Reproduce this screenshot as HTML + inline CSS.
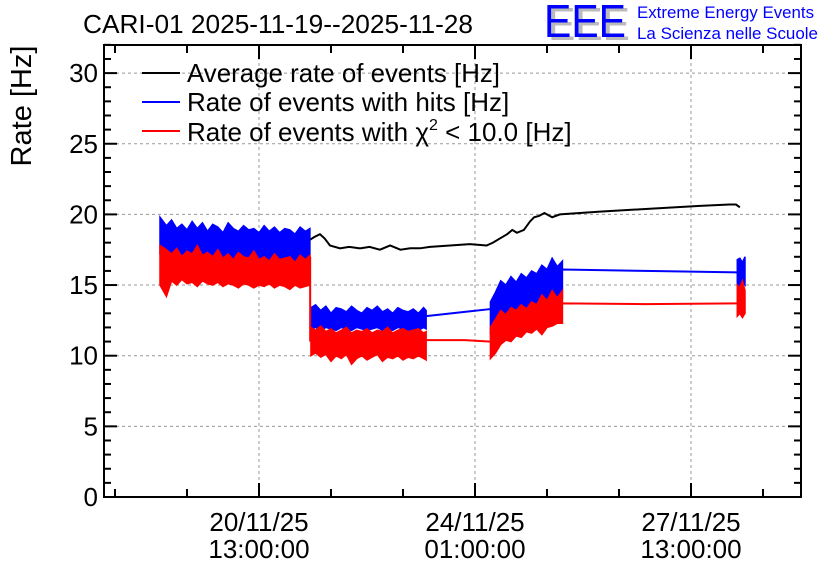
<!DOCTYPE html>
<html><head><meta charset="utf-8"><style>
body{margin:0;background:#fff}
svg{display:block;font-family:"Liberation Sans",sans-serif}
</style></head><body>
<svg id="chart" width="836" height="572"></svg>
<script>
const xTickLabels=[["20/11/25","13:00:00"],["24/11/25","01:00:00"],["27/11/25","13:00:00"]];
const xTickHours=[0,84,168];
const yTicks=[0,5,10,15,20,25,30];
// hours relative to 20/11/25 13:00
const avgT=[19.8,21.5,23.7,25.5,27.6,31.5,35,39.3,43,47,51,55,58.8,62.6,66.5,74.3,82,88.5,91,93.7,96.5,98.5,100.3,103,105.4,107,109,111,114,117,132.6,152,171.5,183,185.5,187];
const avgV=[18.2,18.4,18.6,18.3,17.8,17.6,17.7,17.6,17.7,17.5,17.8,17.5,17.6,17.6,17.7,17.8,17.9,17.8,18.0,18.3,18.6,18.9,18.7,18.9,19.5,19.8,19.9,20.1,19.8,20.0,20.2,20.4,20.6,20.7,20.7,20.5];
const seg1T=[-38.5,-36,-34,-32,-30,-28,-26,-24,-22,-20,-18,-16,-14,-12,-10,-8,-6,-4,-2,0,2,4,6,8,10,12,14,16,18,19.8];
const seg1BlueHi=[19.8,19.2,19.6,19.0,19.3,18.9,19.5,19.0,19.4,18.8,19.3,19.1,18.7,19.4,19.0,18.8,19.2,18.9,19.0,18.7,19.2,18.8,19.1,18.7,19.0,18.9,18.6,19.1,18.8,19.0];
const seg1BlueLo=[17.2,17.0,17.3,17.1,17.0,17.2,16.9,17.1,17.0,16.8,17.0,16.9,16.8,17.0,16.7,16.9,16.8,16.7,16.9,16.6,16.8,16.7,16.6,16.8,16.6,16.7,16.5,16.6,16.7,16.6];
const seg1RedHi=[17.8,17.5,17.2,17.6,17.0,17.4,17.2,17.8,17.1,17.3,17.0,17.5,16.9,17.2,16.8,17.3,17.0,16.9,17.4,16.8,17.0,16.7,17.2,16.8,16.9,17.0,16.6,17.1,16.8,17.1];
const seg1RedLo=[15.0,14.2,15.3,15.0,15.4,15.1,15.2,14.9,15.3,15.1,15.0,15.2,14.9,15.1,15.0,14.8,15.1,15.0,14.8,15.0,14.9,15.1,14.8,15.0,14.9,14.7,15.0,14.8,14.9,15.0];
const seg2T=[20.2,22,24,26,28,30,32,34,36,38,40,42,44,46,48,50,52,54,56,58,60,62,64,65];
const seg2BlueHi=[13.4,13.6,13.2,13.5,13.0,13.4,13.3,13.1,13.5,13.2,13.0,13.4,13.2,13.5,13.1,13.3,13.0,13.4,13.2,13.1,13.3,13.0,13.4,13.2];
const seg2BlueLo=[11.9,12.0,11.8,12.0,11.9,11.8,12.0,11.9,11.8,12.0,11.9,11.8,11.9,12.0,11.8,11.9,11.8,12.0,11.9,11.8,11.9,11.8,12.0,11.9];
const seg2RedHi=[12.0,11.8,12.1,11.7,11.9,11.6,11.8,12.0,11.6,11.8,11.7,11.9,11.6,11.8,11.7,12.0,11.6,11.8,11.9,11.7,11.8,11.9,11.6,11.7];
const seg2RedLo=[10.0,10.2,9.9,10.1,9.6,10.0,9.8,10.1,9.4,9.8,10.0,9.7,9.9,10.1,9.6,9.9,9.8,10.0,9.7,9.9,9.8,10.0,9.8,9.7];
const seg3T=[90,92,94,96,98,100,102,104,106,108,110,112,114,116,118];
const seg3BlueHi=[13.8,14.5,15.3,15.0,15.6,15.2,15.8,15.5,16.0,15.8,16.4,16.1,16.9,16.3,16.7];
const seg3BlueLo=[11.5,12.3,12.8,12.8,13.0,13.1,13.1,13.2,13.4,13.5,13.7,13.7,14.0,14.1,14.1];
const seg3RedHi=[12.0,12.6,13.2,12.9,13.4,13.2,13.6,13.3,13.8,13.6,14.3,13.9,14.6,14.1,14.6];
const seg3RedLo=[9.8,10.2,10.8,11.1,11.0,11.4,11.3,11.7,11.6,11.9,11.5,12.0,12.1,12.3,12.3];
const seg4T=[186,187,188,189];
const seg4BlueHi=[16.8,16.9,16.6,17.0];
const seg4BlueLo=[15.0,14.8,15.2,15.0];
const seg4RedHi=[15.0,14.8,15.3,14.6];
const seg4RedLo=[12.8,13.0,12.7,13.0];
const blueLinkT=[65,80,90,118,150,186];
const blueLinkV=[12.8,13.1,13.3,16.1,16.0,15.9];
const redLinkT=[65,80,90,118,150,186];
const redLinkV=[11.1,11.1,11.0,13.7,13.65,13.7];

const L=104,R=801,T=45,B=497;
const xs=t=>259+t*(216/84);
const ys=v=>B-v*14.13;
const svg=document.getElementById('chart');
const NS='http://www.w3.org/2000/svg';
function mk(tag,attrs,parent){const e=document.createElementNS(NS,tag);for(const k in attrs)e.setAttribute(k,attrs[k]);(parent||svg).appendChild(e);return e;}

const grid=mk('g',{});


yTicks.forEach(v=>{if(v>0)mk('line',{x1:L,x2:R,y1:ys(v),y2:ys(v),stroke:'#999','stroke-dasharray':'3,3','stroke-width':1},grid);});
xTickHours.forEach(h=>mk('line',{x1:xs(h),x2:xs(h),y1:T,y2:B,stroke:'#999','stroke-dasharray':'3,3','stroke-width':1},grid));

function band(ts,hi,lo,color,name){
  let pts=ts.map((t,i)=>xs(t)+','+ys(hi[i]));
  for(let i=ts.length-1;i>=0;i--)pts.push(xs(ts[i])+','+ys(lo[i]));
  const p=mk('polygon',{points:pts.join(' '),fill:color,stroke:color,'stroke-width':1.5});
  
  
}
function line(ts,vs,color,name){
  const p=mk('polyline',{points:ts.map((t,i)=>xs(t)+','+ys(vs[i])).join(' '),fill:'none',stroke:color,'stroke-width':2});
  
  
}
line(avgT,avgV,'#000','average-rate-line');
line(blueLinkT,blueLinkV,'#00f','hits-rate-link');
line(redLinkT,redLinkV,'#f00','chi2-rate-link');
band(seg1T,seg1BlueHi,seg1BlueLo,'#00f','hits-band-1');
band(seg2T,seg2BlueHi,seg2BlueLo,'#00f','hits-band-2');
band(seg3T,seg3BlueHi,seg3BlueLo,'#00f','hits-band-3');
band(seg4T,seg4BlueHi,seg4BlueLo,'#00f','hits-band-4');
band(seg1T,seg1RedHi,seg1RedLo,'#f00','chi2-band-1');
band(seg2T,seg2RedHi,seg2RedLo,'#f00','chi2-band-2');
band(seg3T,seg3RedHi,seg3RedLo,'#f00','chi2-band-3');
band(seg4T,seg4RedHi,seg4RedLo,'#f00','chi2-band-4');
mk('line',{x1:xs(19.9),x2:xs(19.9),y1:ys(17),y2:ys(11),stroke:'#f00','stroke-width':2});

const fr=mk('rect',{x:L,y:T,width:R-L,height:B-T,fill:'none',stroke:'#000','stroke-width':2});


const yax=mk('g',{});


for(let v=0;v<=32;v++){const len=v%5===0?13:7;
  mk('line',{x1:L,x2:L+len,y1:ys(v),y2:ys(v),stroke:'#000','stroke-width':2},yax);
  mk('line',{x1:R,x2:R-len,y1:ys(v),y2:ys(v),stroke:'#000','stroke-width':2},yax);}
yTicks.forEach(v=>{const t=mk('text',{x:L-6,y:ys(v)+9,'text-anchor':'end','font-size':26},yax);t.textContent=v;});
const xax=mk('g',{});


for(let k=-2;k<=7;k++){const h=k*28;const x=xs(h);if(x<L||x>R)continue;const len=k%3===0?14:8;
  mk('line',{x1:x,x2:x,y1:B,y2:B-len,stroke:'#000','stroke-width':2},xax);
  mk('line',{x1:x,x2:x,y1:T,y2:T+len,stroke:'#000','stroke-width':2},xax);}
xTickHours.forEach((h,i)=>{
  const t1=mk('text',{x:xs(h),y:531,'text-anchor':'middle','font-size':26},xax);t1.textContent=xTickLabels[i][0];
  const t2=mk('text',{x:xs(h),y:558,'text-anchor':'middle','font-size':26},xax);t2.textContent=xTickLabels[i][1];});
</script>
<svg width="836" height="572" style="position:absolute;left:0;top:0">
<text x="83" y="33" font-size="26" textLength="390" lengthAdjust="spacingAndGlyphs">CARI-01 2025-11-19--2025-11-28</text>
<text transform="translate(31,106) rotate(-90)" text-anchor="middle" font-size="29">Rate [Hz]</text>
<g>
<text x="548" y="40" font-size="46" fill="#bbb" textLength="82" lengthAdjust="spacingAndGlyphs">EEE</text>
<text x="544" y="37" font-size="46" fill="#00f" textLength="82" lengthAdjust="spacingAndGlyphs">EEE</text>
<text x="637" y="18" font-size="17" fill="#00f" textLength="177" lengthAdjust="spacingAndGlyphs">Extreme Energy Events</text>
<text x="637" y="39" font-size="17" fill="#00f" textLength="181" lengthAdjust="spacingAndGlyphs">La Scienza nelle Scuole</text>
</g>
<g font-size="26">
<line x1="142" x2="180" y1="73" y2="73" stroke="#000" stroke-width="2"/>
<text x="187" y="82" textLength="313" lengthAdjust="spacingAndGlyphs">Average rate of events [Hz]</text>
<line x1="142" x2="180" y1="102" y2="102" stroke="#00f" stroke-width="2"/>
<text x="187" y="111">Rate of events with hits [Hz]</text>
<line x1="142" x2="180" y1="131" y2="131" stroke="#f00" stroke-width="2"/>
<text x="187" y="141">Rate of events with χ<tspan dy="-11" font-size="16">2</tspan><tspan dy="11"> &lt; 10.0 [Hz]</tspan></text>
</g>
</svg>
</body></html>
